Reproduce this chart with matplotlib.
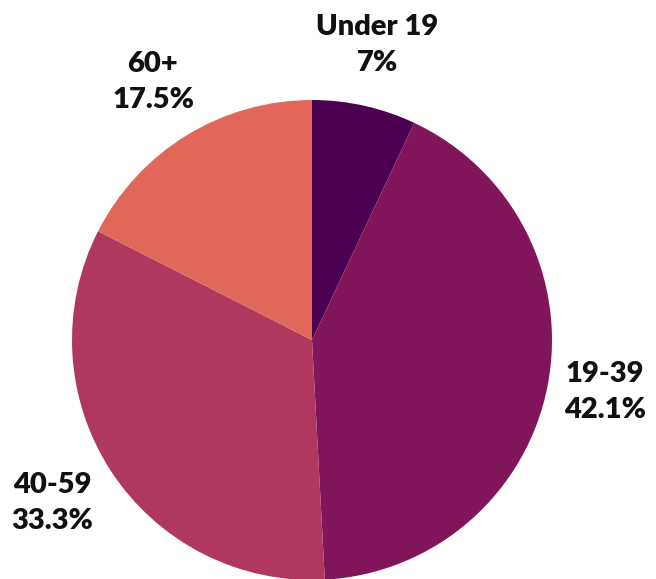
import matplotlib.pyplot as plt

groups = ["Under 19", "19-39", "40-59", "60+"]
shares = [7.0, 42.1, 33.3, 17.5]
share_labels = ["7%", "42.1%", "33.3%", "17.5%"]
colors = ["#4b0052", "#80155a", "#b0385f", "#e0675a"]

W, H = 656, 579
# label anchor points (x, y from top) in pixel units of the canvas
label_pos = [(377, 45), (605, 392), (52, 503), (153, 82)]

fig = plt.figure(figsize=(W / 100, H / 100), dpi=100)
ax = fig.add_axes([0, 0, 1, 1])

ax.pie(shares, colors=colors, startangle=90, counterclock=False,
       center=(312, H - 340), radius=240, frame=True,
       wedgeprops=dict(edgecolor="none"))
ax.set_xlim(0, W)
ax.set_ylim(0, H)
ax.set_aspect("auto")
ax.axis("off")

for name, pct, (x, y) in zip(groups, share_labels, label_pos):
    ax.text(x, H - y, f"{name}\n{pct}", ha="center", va="center",
            fontsize=21, fontweight="heavy", family="Lato",
            color="#111111", linespacing=1.45)

fig.savefig("out.png", dpi=100)
